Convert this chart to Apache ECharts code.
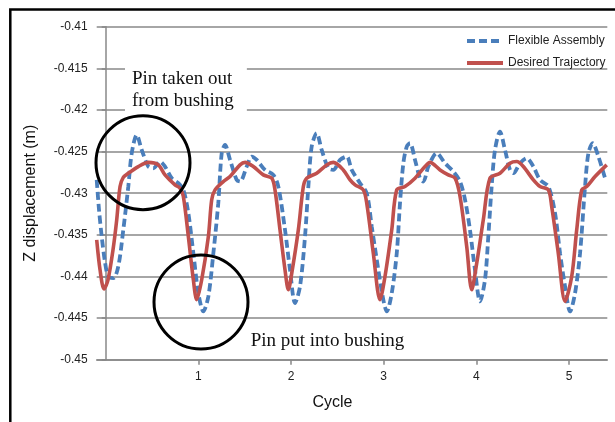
<!DOCTYPE html>
<html>
<head>
<meta charset="utf-8">
<script src="https://cdn.jsdelivr.net/npm/echarts@6/dist/echarts.min.js"></script>
<style>html,body{margin:0;padding:0;background:#fff;}#c{width:615px;height:422px;}</style>
</head>
<body>
<div id="c"></div>
<script>
// Flexible Assembly (blue dashed)
const cycleFlex = [-0.097,-0.072,-0.043,-0.007,0.028,0.083,0.136,0.190,0.244,0.281,
0.335,0.389,0.460,0.514,0.586,0.640,0.713,0.784,0.838,0.892,
0.946,1.000,1.054,1.108,1.162,1.215,1.252,1.288,1.342,1.414,
1.450,1.522,1.576,1.630,1.719,1.809,1.863,1.935,1.989,2.043,
2.097,2.151,2.187,2.223,2.277,2.331,2.403,2.456,2.529,2.601,
2.655,2.745,2.817,2.871,2.942,2.996,3.033,3.087,3.141,3.176,
3.212,3.249,3.284,3.338,3.392,3.428,3.482,3.572,3.662,3.752,
3.824,3.878,3.931,3.985,4.039,4.093,4.129,4.165,4.201,4.255,
4.309,4.363,4.399,4.471,4.544,4.615,4.687,4.777,4.849,4.903,
4.957,5.011,5.065,5.119,5.173,5.209,5.256,5.317,5.389];
const zFlex = [-0.4284,-0.4320,-0.4352,-0.4383,-0.4400,-0.4402,-0.4388,-0.4344,-0.4292,-0.4252,
-0.4230,-0.4248,-0.4268,-0.4270,-0.4262,-0.4268,-0.4282,-0.4288,-0.4296,-0.4324,
-0.4372,-0.4420,-0.4442,-0.4424,-0.4372,-0.4312,-0.4252,-0.4242,-0.4260,-0.4284,
-0.4286,-0.4268,-0.4256,-0.4260,-0.4272,-0.4278,-0.4292,-0.4344,-0.4392,-0.4432,
-0.4412,-0.4352,-0.4292,-0.4244,-0.4228,-0.4248,-0.4270,-0.4272,-0.4260,-0.4256,
-0.4272,-0.4288,-0.4300,-0.4340,-0.4392,-0.4428,-0.4442,-0.4420,-0.4372,-0.4312,
-0.4264,-0.4244,-0.4240,-0.4260,-0.4282,-0.4286,-0.4268,-0.4252,-0.4264,-0.4274,
-0.4286,-0.4308,-0.4344,-0.4392,-0.4430,-0.4404,-0.4352,-0.4292,-0.4248,-0.4226,
-0.4248,-0.4272,-0.4276,-0.4264,-0.4258,-0.4268,-0.4284,-0.4292,-0.4324,-0.4372,
-0.4412,-0.4442,-0.4420,-0.4372,-0.4292,-0.4252,-0.4240,-0.4256,-0.4282];

// Desired Trajectory (red solid)
const cycleDesired = [-0.097,-0.061,-0.018,0.025,0.079,0.119,0.155,0.190,0.244,0.352,
0.460,0.568,0.640,0.748,0.802,0.838,0.892,0.946,0.982,1.036,
1.108,1.144,1.180,1.269,1.342,1.450,1.504,1.593,1.701,1.792,
1.827,1.881,1.935,1.971,2.008,2.079,2.133,2.169,2.277,2.385,
2.456,2.564,2.637,2.691,2.780,2.817,2.888,2.960,3.014,3.087,
3.141,3.230,3.338,3.446,3.500,3.608,3.697,3.770,3.824,3.896,
3.950,4.004,4.075,4.147,4.255,4.363,4.436,4.507,4.615,4.687,
4.777,4.813,4.884,4.957,5.029,5.083,5.137,5.191,5.281,5.407];
const zDesired = [-0.4356,-0.4392,-0.4415,-0.4404,-0.4368,-0.4332,-0.4292,-0.4281,-0.4276,-0.4268,
-0.4263,-0.4266,-0.4278,-0.4290,-0.4294,-0.4304,-0.4352,-0.4404,-0.4428,-0.4404,
-0.4352,-0.4308,-0.4296,-0.4286,-0.4280,-0.4266,-0.4263,-0.4268,-0.4278,-0.4282,
-0.4296,-0.4344,-0.4392,-0.4416,-0.4396,-0.4344,-0.4292,-0.4282,-0.4276,-0.4266,
-0.4263,-0.4272,-0.4284,-0.4290,-0.4296,-0.4312,-0.4372,-0.4428,-0.4400,-0.4344,
-0.4296,-0.4292,-0.4282,-0.4268,-0.4263,-0.4272,-0.4278,-0.4282,-0.4304,-0.4364,
-0.4416,-0.4384,-0.4332,-0.4282,-0.4276,-0.4264,-0.4262,-0.4268,-0.4284,-0.4292,
-0.4296,-0.4316,-0.4372,-0.4430,-0.4400,-0.4344,-0.4296,-0.4292,-0.4280,-0.4266];

const xTickValues = [1, 2, 3, 4, 5];
const seriesNames = ['Flexible Assembly', 'Desired Trajectory'];

function zip(a, b) { const n = Math.min(a.length, b.length); const r = []; for (let i = 0; i < n; i++) r.push([a[i], b[i]]); return r; }

const chart = echarts.init(document.getElementById('c'), null, {renderer: 'canvas'});
const gridColor = '#888888';
const sans = '"Liberation Sans", Arial, sans-serif';
const serif = '"Liberation Serif", "Times New Roman", serif';

chart.setOption({
  animation: false,
  backgroundColor: '#ffffff',
  grid: {left: 96.7, right: 7.7, top: 26.7, bottom: 62.3},
  legend: {
    orient: 'vertical', left: 460, top: 30,
    itemWidth: 36, itemHeight: 14, itemGap: 10,
    data: seriesNames,
    itemStyle: {opacity: 0},
    lineStyle: {width: 4},
    textStyle: {fontFamily: sans, fontSize: 12, color: '#222'}
  },
  xAxis: {
    type: 'value', min: -0.097, max: 5.413,
    name: 'Cycle', nameLocation: 'middle', nameGap: 35,
    nameTextStyle: {fontFamily: sans, fontSize: 16, color: '#111', padding: [0, 39, 0, 0]},
    axisLine: {show: true, lineStyle: {color: gridColor, width: 1.5}},
    axisTick: {show: true, length: 5, customValues: xTickValues, lineStyle: {color: gridColor, width: 1.5}},
    axisLabel: {customValues: xTickValues, margin: 11, fontFamily: sans, fontSize: 12, color: '#222'},
    splitLine: {show: false}
  },
  yAxis: {
    type: 'value', min: -0.45, max: -0.41, interval: 0.005,
    name: 'Z displacement (m)', nameLocation: 'middle', nameGap: 58,
    nameTextStyle: {fontFamily: sans, fontSize: 16, color: '#111'},
    axisLine: {show: true, lineStyle: {color: gridColor, width: 1.5}},
    axisTick: {show: true, length: 4, lineStyle: {color: gridColor, width: 1.5}},
    axisLabel: {margin: 9, fontFamily: sans, fontSize: 12, color: '#222',
      formatter: v => String(parseFloat(v.toFixed(3)))},
    splitLine: {show: true, lineStyle: {color: gridColor, width: 1.5}}
  },
  series: [
    {
      name: seriesNames[0], type: 'line', data: zip(cycleFlex, zFlex),
      showSymbol: false, symbol: 'none', smooth: 0.3,
      lineStyle: {color: '#4a7ebb', width: 3.8, type: [8, 4], cap: 'butt'},
      itemStyle: {color: '#4a7ebb'}, z: 2
    },
    {
      name: seriesNames[1], type: 'line', data: zip(cycleDesired, zDesired),
      showSymbol: false, symbol: 'none', smooth: 0.3,
      lineStyle: {color: '#c0504d', width: 3.6},
      itemStyle: {color: '#c0504d'}, z: 3
    }
  ],
  graphic: [
    {type: 'rect', z: 100, silent: true,
     shape: {x: 10.3, y: 9.5, width: 700, height: 500},
     style: {fill: 'none', stroke: '#000', lineWidth: 2.5}},
    {type: 'text', z: 50, silent: true, x: 125, y: 61.5,
     style: {text: 'Pin taken out\nfrom bushing', font: '19px ' + serif, fill: '#111',
             backgroundColor: '#fff', padding: [7, 13, 7, 7], lineHeight: 22,
             textAlign: 'left', textVerticalAlign: 'top'}},
    {type: 'text', z: 50, silent: true, x: 250.7, y: 341,
     style: {text: 'Pin put into bushing', font: '19px ' + serif, fill: '#111',
             textAlign: 'left', textVerticalAlign: 'middle'}},
    {type: 'circle', z: 100, silent: true, shape: {cx: 143, cy: 162.7, r: 47},
     style: {fill: 'none', stroke: '#000', lineWidth: 3}},
    {type: 'circle', z: 100, silent: true, shape: {cx: 201, cy: 302, r: 47},
     style: {fill: 'none', stroke: '#000', lineWidth: 3}}
  ]
});
</script>
</body>
</html>
